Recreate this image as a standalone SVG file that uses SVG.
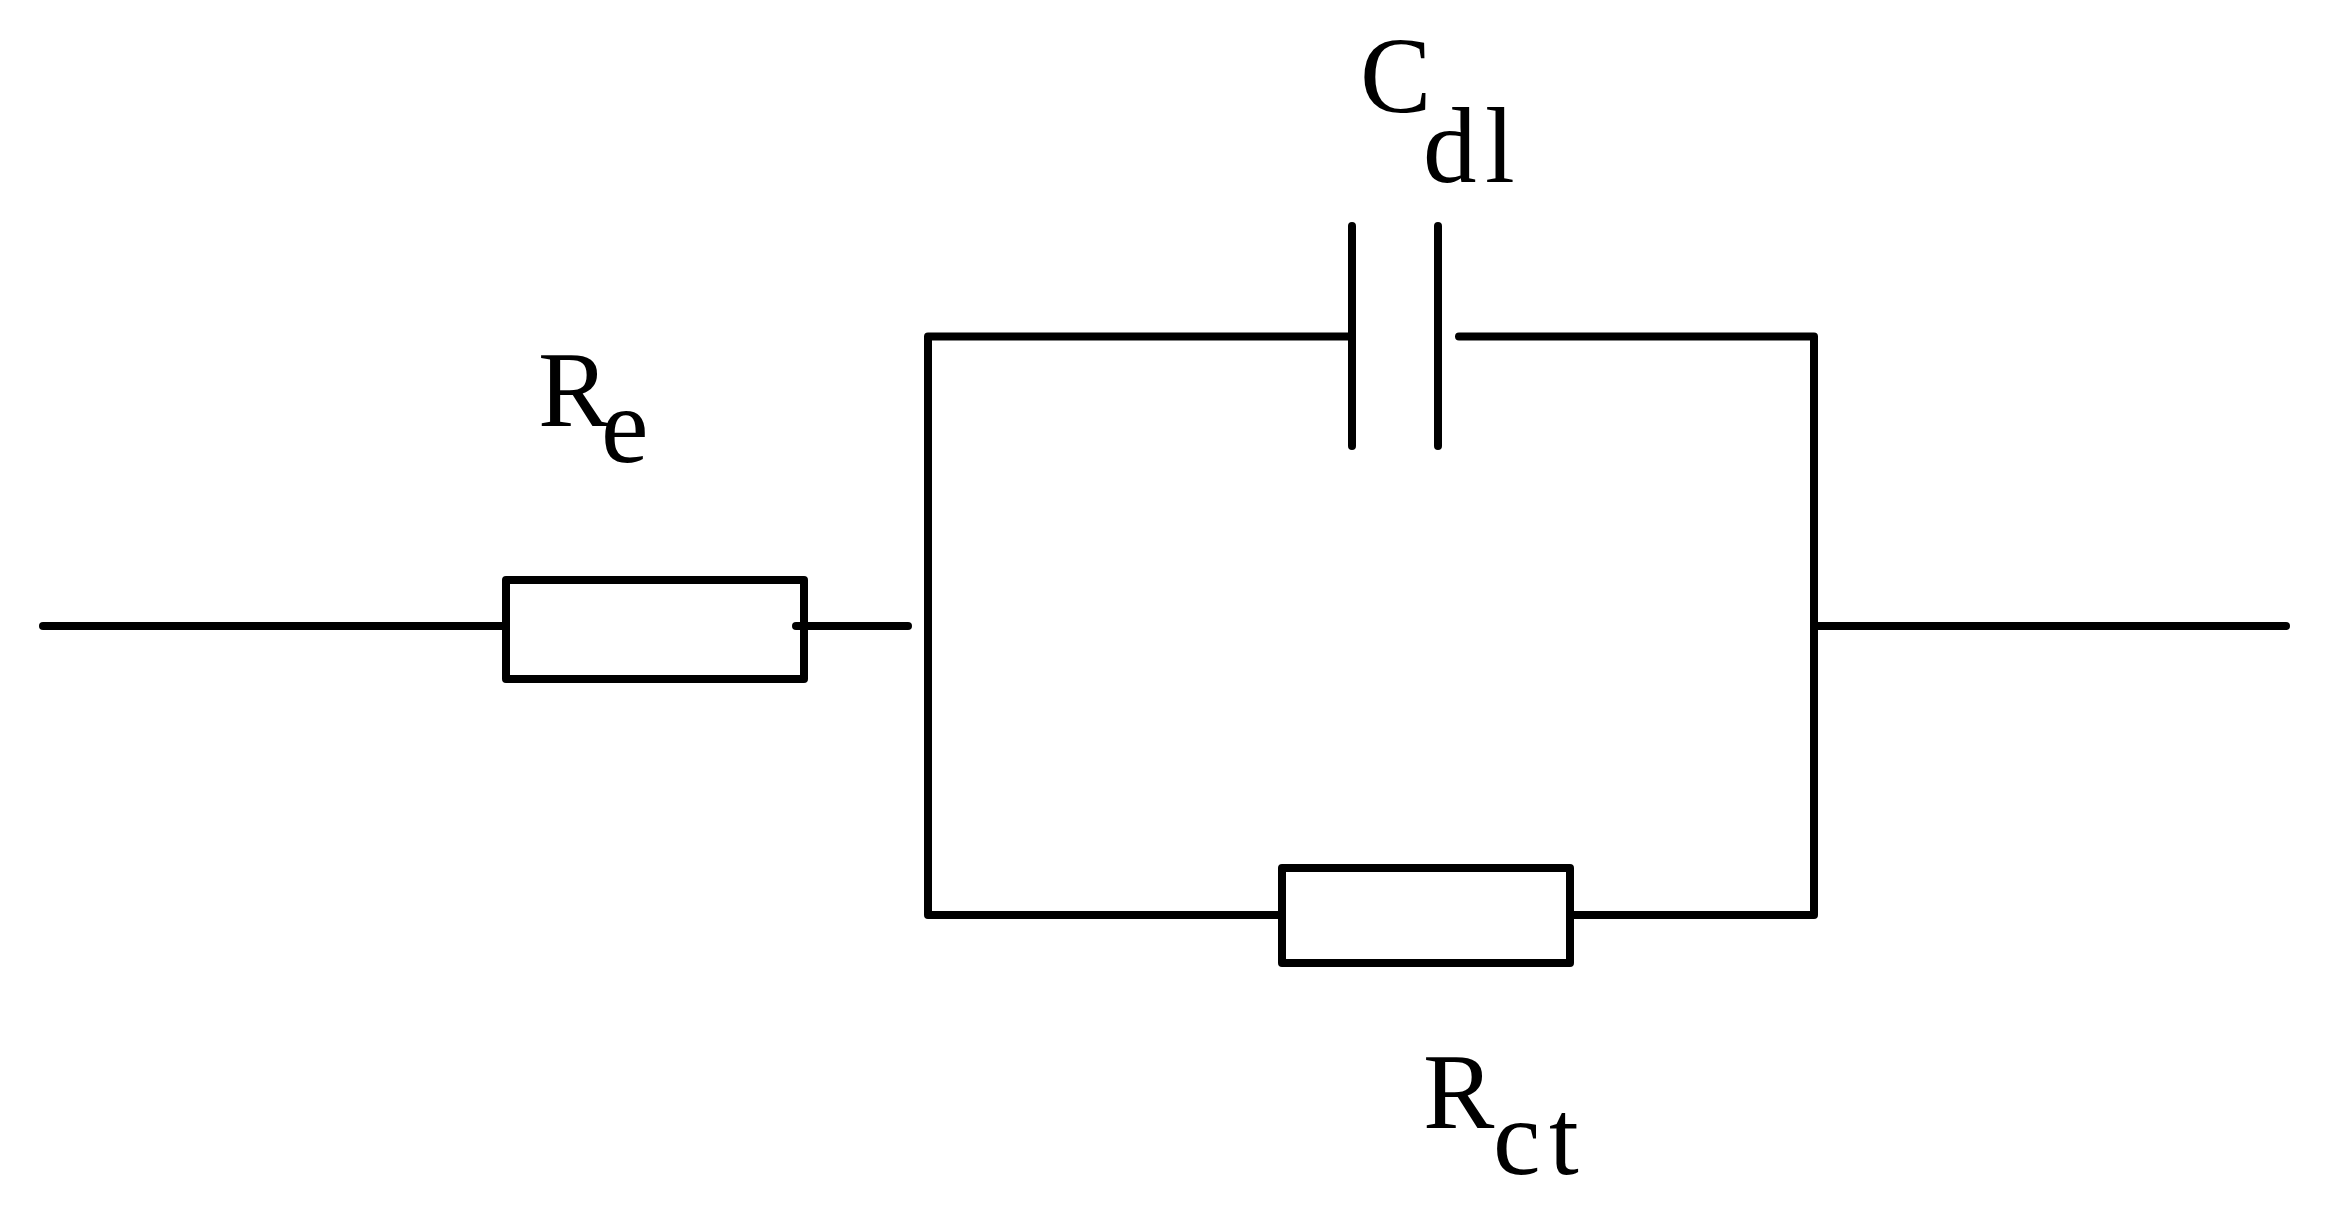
<svg xmlns="http://www.w3.org/2000/svg" width="2331" height="1214" viewBox="0 0 2331 1214">
<style>
.w{fill:none;stroke:#000;stroke-width:8;stroke-linecap:round;stroke-linejoin:round}
.t{font-family:"Liberation Serif","Times New Roman",serif;font-size:107px;fill:#000}
</style>
<rect width="2331" height="1214" fill="#fff"/>
<g id="connectors">
<path class="w" d="M43 626H506"/>
<path class="w" d="M796 626H908"/>
<path class="w" d="M1352 336.500H928V915H1282"/>
<path class="w" d="M1459 336.500H1814V915H1570"/>
<path class="w" d="M1814 626H2286"/>
</g>
<g id="Re"><rect class="w" x="506" y="580" width="298" height="99"/>
<text class="t" x="538" y="426">R</text><text class="t" x="601" y="462">e</text></g>
<g id="Cdl"><path class="w" d="M1352 226V446M1438 226V446"/>
<text class="t" x="1360" y="112">C</text><text class="t" x="1423" y="182">d</text><text class="t" x="1485" y="182">l</text></g>
<g id="Rct"><rect class="w" x="1282" y="868" width="288" height="95"/>
<text class="t" x="1423" y="1128">R</text><text class="t" x="1493" y="1174">c</text><text class="t" x="1549" y="1174">t</text></g>
</svg>
